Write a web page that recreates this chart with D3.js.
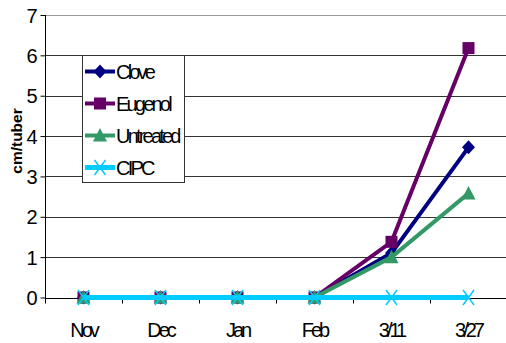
<!DOCTYPE html>
<html><head><meta charset="utf-8">
<script src="https://cdn.jsdelivr.net/npm/d3@7"></script>
<style>body{margin:0;background:#fff}svg{display:block}</style>
</head><body><svg id="c" width="506" height="343"></svg>
<script>
const categories = ["Nov","Dec","Jan","Feb","3/11","3/27"];
const clove     = [0,0,0,0,1.1,3.72];
const eugenol   = [0,0,0,0,1.38,6.18];
const untreated = [0,0,0,0,1.0,2.58];
const cipc      = [0,0,0,0,0,0];
const yTicks = [0,1,2,3,4,5,6,7];
const seriesNames = ["Clove","Eugenol","Untreated","CIPC"];
const seriesColors = ["#000080","#660066","#339966","#00CCFF"];
const seriesSymbols = ["diamond","square","triangle","x"];
const seriesData = [clove, eugenol, untreated, cipc];

const svg = d3.select("#c");
const L = 45, R = 507, T = 15, B = 297.5;
const x = d3.scaleBand().domain(categories).range([L, R]);
const y = d3.scaleLinear().domain([0,7]).range([B, T]);
const font = "'Liberation Sans', Arial, sans-serif";

// gridlines
svg.append("g").selectAll("line").data(yTicks.filter(d=>d>0)).join("line")
  .attr("x1", L).attr("x2", R)
  .attr("y1", d=>Math.round(y(d))+0.5).attr("y2", d=>Math.round(y(d))+0.5)
  .attr("stroke", d=> d===7 ? "#999" : "#333").attr("stroke-width", 1);

// y axis
const yAxis = d3.axisLeft(y).tickValues(yTicks).tickSize(5).tickPadding(3).tickFormat(d3.format("d"));
const gy = svg.append("g").attr("transform", `translate(${L+0.5},0)`).call(yAxis);
gy.select(".domain").attr("stroke","#000").attr("d", `M0,${T}V${B+5}`);
gy.selectAll(".tick line").attr("stroke","#000");
gy.selectAll(".tick text").attr("font-family", font).attr("font-size", 20).attr("fill","#000").attr("dy","0.36em");

// x axis
const gx = svg.append("g").attr("transform", `translate(0,${Math.round(B)+0.5})`);
gx.append("line").attr("x1", L).attr("x2", R).attr("stroke","#000");
const bounds = categories.map(c=>x(c)).concat([R]);
gx.selectAll("line.tk").data(bounds).join("line").attr("class","tk")
  .attr("x1", d=>Math.round(d)+0.5).attr("x2", d=>Math.round(d)+0.5)
  .attr("y1", 0).attr("y2", 5).attr("stroke","#000");
gx.selectAll("text").data(categories).join("text")
  .attr("x", d=>x(d)+x.bandwidth()/2).attr("y", 38.5)
  .attr("text-anchor","middle").attr("font-family", font).attr("font-size", 20)
  .attr("letter-spacing", "-3px").text(d=>d);

// y label
svg.append("text").attr("transform","translate(22,141) rotate(-90)")
  .attr("text-anchor","middle").attr("font-family", font).attr("font-weight","bold")
  .attr("font-size", 15.5).text("cm/tuber");

function marker(g, sym, color, cx, cy) {
  if (sym === "diamond") {
    g.append("path").attr("d", `M${cx},${cy-7}L${cx+6.5},${cy}L${cx},${cy+7}L${cx-6.5},${cy}Z`).attr("fill", color);
  } else if (sym === "square") {
    g.append("rect").attr("x", cx-6).attr("y", cy-6).attr("width", 12).attr("height", 12).attr("fill", color);
  } else if (sym === "triangle") {
    g.append("path").attr("d", `M${cx},${cy-7.5}L${cx+7},${cy+6}L${cx-7},${cy+6}Z`).attr("fill", color);
  } else {
    g.append("path").attr("d", `M${cx-5.5},${cy-7.5}L${cx+5.5},${cy+7.5}M${cx+5.5},${cy-7.5}L${cx-5.5},${cy+7.5}`)
      .attr("stroke", color).attr("stroke-width", 1.5).attr("fill","none");
  }
}

const line = d3.line().x((d,i)=>x(categories[i])+x.bandwidth()/2).y(d=>y(d));
seriesData.forEach((data, s) => {
  const g = svg.append("g");
  g.append("path").datum(data).attr("d", line).attr("fill","none")
    .attr("stroke", seriesColors[s]).attr("stroke-width", s===3 ? 5 : 4).attr("stroke-linejoin","round");
  data.forEach((v,i) => marker(g, seriesSymbols[s], seriesColors[s], x(categories[i])+x.bandwidth()/2, y(v)));
});

// legend
const lg = svg.append("g");
lg.append("rect").attr("x", 82.5).attr("y", 55.5).attr("width", 102).attr("height", 127)
  .attr("fill","#fff").attr("stroke","#333");
seriesNames.forEach((n, s) => {
  const cy = 71.5 + s*32;
  lg.append("line").attr("x1", 85).attr("x2", 115).attr("y1", cy).attr("y2", cy)
    .attr("stroke", seriesColors[s]).attr("stroke-width", s===3 ? 5 : 4);
  marker(lg, seriesSymbols[s], seriesColors[s], 100, cy);
  lg.append("text").attr("x", 116).attr("y", cy).attr("dy","0.36em")
    .attr("font-family", font).attr("font-size", 20).attr("letter-spacing","-2.8px").text(n);
});
</script></body></html>
